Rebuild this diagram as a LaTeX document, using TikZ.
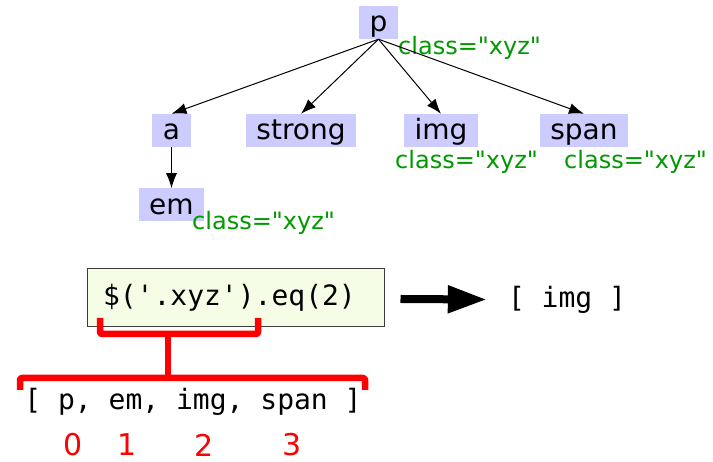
\documentclass[tikz,border=0pt]{standalone}
\usepackage{fontspec}
\setmainfont{DejaVu Sans}[Ligatures=TeXOff]
\setmonofont{DejaVu Sans Mono}
\usetikzlibrary{positioning}
\usetikzlibrary{arrows.meta}

\definecolor{tagfill}{RGB}{204,204,255}
\definecolor{attrgreen}{RGB}{0,153,0}
\definecolor{codefill}{RGB}{245,253,230}
\definecolor{codeline}{RGB}{60,60,60}

\begin{document}
\begin{tikzpicture}[
    x=1pt, y=-1pt,
    tag/.style={fill=tagfill,inner xsep=10.6pt,inner ysep=0pt,text height=26pt,text depth=7pt,font=\fontsize{28}{32}\selectfont},
    attr/.style={anchor=base west,inner sep=0pt,text=attrgreen,font=\fontsize{24}{28}\selectfont},
    mono/.style={inner sep=0pt,font=\ttfamily\fontsize{28}{32}\selectfont},
    codebox/.style={draw=codeline,fill=codefill,line width=1pt,inner xsep=16pt,text width=265pt,align=left,minimum height=58pt,font=\ttfamily\fontsize{28}{32}\selectfont},
    idx/.style={inner sep=0pt,text=red,font=\fontsize{30}{34}\selectfont},
    child/.style={line width=1pt,-{Latex[length=15pt,width=11pt]}},
    brk/.style={draw=red,line width=6.5pt,rounded corners=2pt,line join=round},
    bigarrow/.style={line width=8pt,-{Triangle[length=39pt,width=26pt]}}
    ]
    \useasboundingbox (0,0) rectangle (713,462);

    % DOM tree
    \node[tag] (p) at (378.5,22.5) {p};
    \node[tag] (a) at (171.5,130.5) {a};
    \node[tag] (strong) at (301,130.5) {strong};
    \node[tag] (img) at (441,130.5) {img};
    \node[tag] (span) at (584,130.5) {span};
    \node[tag, below=41pt of a] (em) {em};

    \node[attr] (pcls) at (398,55) {class="xyz"};
    \node[attr] (imgcls) at (395,169) {class="xyz"};
    \node[attr] (spancls) at (564,169) {class="xyz"};
    \node[attr] (emcls) at (192,230) {class="xyz"};

    \path (p.south) edge[child] (a.north)
    (p.south) edge[child] (strong.north)
    (p.south) edge[child] (img.north)
    (p.south) edge[child] (span.north)
    (a) edge[child] (em)
    ;

    % selector and result
    \node[codebox] (code) at (235.5,298) {\$('.xyz').eq(2)};
    \node[mono] (res) at (567,300) {[ img ]};
    \draw[bigarrow,shorten <=16pt,shorten >=21pt] (code) -- (res);

    \node[mono] (list) at (193,402) {[ p, em, img, span ]};
    \node[idx] (i0) at (73,445) {0};
    \node[idx] (i1) at (127,445) {1};
    \node[idx] (i2) at (204,445) {2};
    \node[idx] (i3) at (292,445) {3};

    % brackets
    \coordinate (selL) at (100,318);
    \coordinate (selR) at (258,318);
    \coordinate (selM) at (168,334);
    \coordinate (allM) at (168,378);
    \coordinate (allL) at (20,390);
    \coordinate (allR) at (365,390);
    \draw[brk] (selL) |- (selM) -| (selR);
    \draw[brk] (selM) -- (allM);
    \draw[brk] (allL) |- (allM) -| (allR);
  \end{tikzpicture}
\end{document}
